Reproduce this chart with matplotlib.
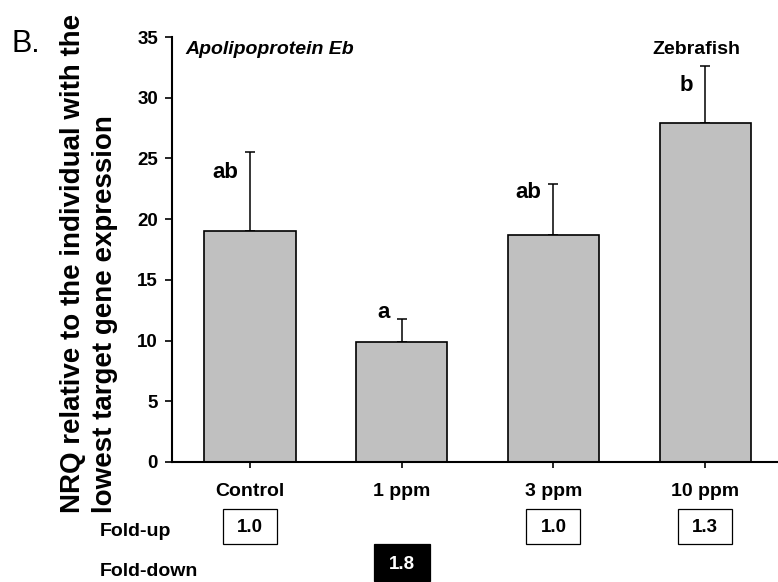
import matplotlib
matplotlib.use('Agg')
import matplotlib.pyplot as plt
from matplotlib.patches import Rectangle
from matplotlib.transforms import blended_transform_factory

plt.rcParams['font.family'] = ['Liberation Sans', 'DejaVu Sans']

groups = ['Control', '1 ppm', '3 ppm', '10 ppm']
nrq = [19.0, 9.9, 18.7, 27.9]
nrq_err = [6.5, 1.9, 4.2, 4.7]
sig_letters = ['ab', 'a', 'ab', 'b']
letter_drop = [1.7, -0.5, 0.7, 1.6]   # letter height relative to error cap
fold_up = ['1.0', None, '1.0', '1.3']
fold_down = [None, '1.8', None, None]

W, H = 778, 582
fig = plt.figure(figsize=(W / 100, H / 100), dpi=100)
ax = fig.add_axes([172 / W, 120 / H, 606 / W, 425 / H])

x = list(range(len(groups)))
ax.bar(x, nrq, width=0.6, color='#c0c0c0', edgecolor='black', linewidth=1.2, zorder=2)
ax.errorbar(x, nrq, yerr=[[0] * len(nrq), nrq_err], fmt='none', ecolor='black',
            elinewidth=1.1, capsize=3.5, capthick=1.1, zorder=1)

for xi, m, e, lab, d in zip(x, nrq, nrq_err, sig_letters, letter_drop):
    ax.text(xi - 0.08, m + e - d, lab, ha='right', va='center',
            fontsize=16, fontweight='bold')

ax.set_xlim(-0.514, 3.48)
ax.set_ylim(0, 35)
ax.set_yticks(range(0, 36, 5))
ax.set_xticks(x)
ax.set_xticklabels(groups)
ax.spines['top'].set_visible(False)
ax.spines['right'].set_visible(False)
ax.spines['left'].set_linewidth(1.5)
ax.spines['bottom'].set_linewidth(1.5)
ax.tick_params(axis='y', length=5, width=1.2, pad=5, labelsize=13.5)
ax.tick_params(axis='x', length=4, width=1.2, pad=11, labelsize=14)
for lbl in ax.get_xticklabels() + ax.get_yticklabels():
    lbl.set_fontweight('bold')

fig.text(89 / W, 1 - 513 / H,
         'NRQ relative to the individual with the\nlowest target gene expression',
         rotation=90, ha='center', va='bottom', multialignment='left',
         fontsize=20, fontweight='bold', linespacing=1.27)

fig.text(12 / W, 1 - 52 / H, 'B.', fontsize=22, va='baseline')
fig.text(185 / W, 1 - 54 / H, 'Apolipoprotein Eb', fontsize=14,
         fontweight='bold', fontstyle='italic', va='baseline')
fig.text(696 / W, 1 - 54 / H, 'Zebrafish', fontsize=14, fontweight='bold',
         ha='center', va='baseline')

# fold-change boxes under the categories
tr = blended_transform_factory(ax.transData, fig.transFigure)
bw = 54 / 151.7
bh = 35 / H
for xi, v in zip(x, fold_up):
    if v is None:
        continue
    yc = 1 - 526 / H
    fig.add_artist(Rectangle((xi - bw / 2, yc - bh / 2), bw, bh, transform=tr,
                             facecolor='white', edgecolor='black', linewidth=0.9))
    fig.text(xi, yc - 2 / H, v, transform=tr, ha='center', va='center',
             fontsize=13.5, fontweight='bold')
for xi, v in zip(x, fold_down):
    if v is None:
        continue
    yc = 1 - 562.5 / H
    fig.add_artist(Rectangle((xi - 56 / 151.7 / 2, yc - 37 / H / 2), 56 / 151.7, 37 / H,
                             transform=tr, facecolor='black', edgecolor='black',
                             linewidth=0.9))
    fig.text(xi, yc - 2 / H, v, transform=tr, ha='center', va='center',
             fontsize=13.5, fontweight='bold', color='white')

fig.text(100 / W, 1 - 531 / H, 'Fold-up', fontsize=14, fontweight='bold', va='center')
fig.text(100 / W, 1 - 572 / H, 'Fold-down', fontsize=14, fontweight='bold', va='center')

fig.savefig('out.png', dpi=100)
